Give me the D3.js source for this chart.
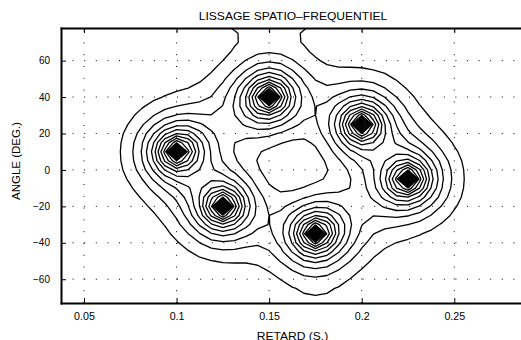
<!DOCTYPE html>
<html>
<head>
<meta charset="utf-8">
<script src="https://cdn.jsdelivr.net/npm/d3@7"></script>
<style>
body { margin: 0; background: #fff; }
text { font-family: "Liberation Sans", Arial, sans-serif; fill: #000; }
</style>
</head>
<body>
<div id="chart"></div>
<script>
// peaks of the smoothed map: delay (s), angle (deg), weight
const peakRetard = [0.1, 0.15, 0.2, 0.225, 0.175, 0.125];
const peakAngle = [10, 40, 25, -5, -35, -20];
const peakWeight = [1, 1, 1, 1, 1, 1];
// one-sided elongation of each peak and its direction (deg, in plot units)
const peakStretch = [1.15, 1.15, 1, 1.15, 1.15, 1];
const peakAxis = [31, 211, 0, 211, 31, 0];

// weak side lobes just outside the frame (top and bottom)
const lobeRetard = [0.149, 0.176];
const lobeAngle = [93, -104];
const lobeWeight = [1.61, 3.0];
const lobeSpreadRetard = [0.036, 0.0216];
const lobeSpreadAngle = [13.7, 16.5];

// sampling grid of the map
const gridRetard = [-0.05, 0.4, 0.00625];
const gridAngle = [-130, 150, 5];

// contour levels
const levelStart = 1;
const levelStep = 1;
const levelCount = 19;

const xTicks = [0.05, 0.1, 0.15, 0.2, 0.25];
const xTickLabels = ["0.05", "0.1", "0.15", "0.2", "0.25"];
const yTicks = [-60, -40, -20, 0, 20, 40, 60];
const yTickLabels = ["\u221260", "\u221240", "\u221220", "0", "20", "40", "60"];

const W = 521, H = 340;
const mLeft = 61, mTop = 28, mBottom = 303, mRight = 521;

const svg = d3.select("#chart").append("svg")
  .attr("width", W).attr("height", H);

const x = d3.scaleLinear().domain([0.03758, 0.28603]).range([mLeft, mRight]);
const y = d3.scaleLinear().domain([-73.05, 77.9]).range([mBottom, mTop]);

// grid lines
svg.append("g").selectAll("line").data(xTicks).enter().append("line")
  .attr("x1", d => x(d)).attr("x2", d => x(d))
  .attr("y1", mBottom).attr("y2", mTop)
  .attr("stroke", "#000").attr("stroke-width", 1)
  .attr("stroke-dasharray", "1,10.8");
svg.append("g").selectAll("line").data(yTicks).enter().append("line")
  .attr("x1", mLeft).attr("x2", mRight)
  .attr("y1", d => y(d)).attr("y2", d => y(d))
  .attr("stroke", "#000").attr("stroke-width", 1)
  .attr("stroke-dasharray", "1,10.6");

// peak shape (distances in units of 0.01 s / 10 deg)
const coreAmp = 13.5, coreLen = 1.45, taperLen = 4.08;
const spikeAmp = 6, spikeLen = 0.27;

const nx = Math.round((gridRetard[1] - gridRetard[0]) / gridRetard[2]) + 1;
const ny = Math.round((gridAngle[1] - gridAngle[0]) / gridAngle[2]) + 1;
const values = new Array(nx * ny);
for (let j = 0; j < ny; j++) {
  const a = gridAngle[0] + j * gridAngle[2];
  for (let i = 0; i < nx; i++) {
    const r = gridRetard[0] + i * gridRetard[2];
    let s = 0;
    for (let k = 0; k < peakRetard.length; k++) {
      const du = (r - peakRetard[k]) / 0.01;
      const dv = (a - peakAngle[k]) / 10;
      const t = peakAxis[k] * Math.PI / 180;
      let p = du * Math.cos(t) + dv * Math.sin(t);
      if (p > 0) p /= peakStretch[k];
      const q = -du * Math.sin(t) + dv * Math.cos(t);
      const de = Math.sqrt(p * p + q * q);
      const d = Math.sqrt(du * du + dv * dv);
      s += peakWeight[k] * (coreAmp * Math.exp(-de / coreLen - (de / taperLen) ** 2)
        + spikeAmp * Math.exp(-d / spikeLen));
    }
    for (let k = 0; k < lobeRetard.length; k++) {
      const gu = (r - lobeRetard[k]) / lobeSpreadRetard[k];
      const gv = (a - lobeAngle[k]) / lobeSpreadAngle[k];
      s += lobeWeight[k] * Math.exp(-0.5 * (gu * gu + gv * gv));
    }
    values[j * nx + i] = s;
  }
}

const levels = d3.range(levelCount).map(k => levelStart + k * levelStep);
const contours = d3.contours().size([nx, ny]).thresholds(levels)(values);

const proj = d3.geoTransform({
  point: function(px, py) {
    this.stream.point(
      x(gridRetard[0] + (px - 0.5) * gridRetard[2]),
      y(gridAngle[0] + (py - 0.5) * gridAngle[2]));
  }
});
const path = d3.geoPath(proj);

svg.append("clipPath").attr("id", "plot-clip")
  .append("rect").attr("x", mLeft).attr("y", mTop)
  .attr("width", mRight - mLeft).attr("height", mBottom - mTop);

svg.append("g").attr("clip-path", "url(#plot-clip)")
  .selectAll("path").data(contours).enter().append("path")
  .attr("d", path)
  .attr("fill", "none")
  .attr("stroke", "#000")
  .attr("stroke-width", 1.3)
  .attr("stroke-linejoin", "round");

// axes
const xAxis = d3.axisBottom(x).tickValues(xTicks)
  .tickFormat((d, i) => xTickLabels[i])
  .tickSizeInner(-5).tickSizeOuter(0).tickPadding(9.5);
const yAxis = d3.axisLeft(y).tickValues(yTicks)
  .tickFormat((d, i) => yTickLabels[i])
  .tickSizeInner(-5).tickSizeOuter(0).tickPadding(11);
const topAxis = d3.axisTop(x).tickValues(xTicks).tickFormat("")
  .tickSizeInner(-5).tickSizeOuter(0);

const gx = svg.append("g").attr("transform", "translate(0," + mBottom + ")").call(xAxis);
const gy = svg.append("g").attr("transform", "translate(" + mLeft + ",0)").call(yAxis);
const gt = svg.append("g").attr("transform", "translate(0," + mTop + ")").call(topAxis);

[gx, gy, gt].forEach(g => {
  g.select(".domain").attr("stroke-width", 2).attr("stroke-linecap", "square");
  g.selectAll(".tick line").attr("stroke-width", 1);
  g.selectAll(".tick text")
    .style("font-family", "Liberation Sans, Arial, sans-serif")
    .style("font-size", "10px");
});
gx.selectAll(".tick text").attr("transform", "scale(1.07,1)");

// labels
function label(str, px, py, size, sx) {
  svg.append("text")
    .attr("transform", "translate(" + px + "," + py + ") scale(" + sx + ",1)")
    .attr("text-anchor", "middle")
    .style("font-size", size + "px")
    .text(str);
}
label("LISSAGE SPATIO\u2013FREQUENTIEL", 293, 20, 10.5, 1.15);
label("RETARD (S.)", 292.5, 339.5, 10.5, 1.15);

svg.append("text")
  .attr("transform", "translate(20,161) rotate(-90)")
  .attr("text-anchor", "middle")
  .style("font-size", "11.5px")
  .text("ANGLE (DEG.)");
</script>
</body>
</html>
